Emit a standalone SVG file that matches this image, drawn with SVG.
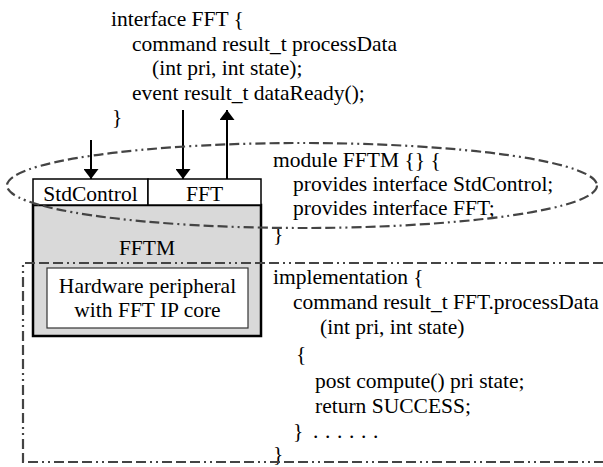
<svg xmlns="http://www.w3.org/2000/svg" width="603" height="467" viewBox="0 0 603 467">
  <style>
    .code { font-family: "Liberation Serif", "Times New Roman", serif; font-size: 21.5px; fill: #000; }
    .lbl { font-family: "Liberation Serif", "Times New Roman", serif; font-size: 21.5px; fill: #000; text-anchor: middle; }
    .dashdot { fill: none; stroke: #444; stroke-width: 2.2; stroke-dasharray: 10 4 10 4 10 4 2 4 2 4; }
    .wire { stroke: #000; stroke-width: 2; fill: none; }
  </style>
  <defs>
    <marker id="head" viewBox="0 0 10 15" refX="10" refY="7.5" markerWidth="10" markerHeight="15" markerUnits="userSpaceOnUse" orient="auto">
      <path d="M0,0 L10,7.5 L0,15 Z" fill="#000"/>
    </marker>
  </defs>

  <rect width="603" height="467" fill="#fff"/>

  <!-- interface definition -->
  <g id="interface-code">
    <text class="code" x="111" y="26">interface FFT {</text>
    <text class="code" x="132" y="50.5">command result_t processData</text>
    <text class="code" x="152" y="75">(int pri, int state);</text>
    <text class="code" x="132" y="99.5">event result_t dataReady();</text>
    <text class="code" x="112" y="124">}</text>
  </g>

  <!-- FFTM component -->
  <g id="fftm">
    <rect x="33" y="205" width="228" height="131" fill="#d9d9d9" stroke="#000" stroke-width="2.5"/>
    <text class="lbl" x="147" y="255">FFTM</text>
  </g>
  <g id="stdcontrol-port">
    <rect x="33" y="179" width="115" height="26" fill="#fff" stroke="#000" stroke-width="1.5"/>
    <text class="lbl" x="90.5" y="201">StdControl</text>
  </g>
  <g id="fft-port">
    <rect x="148" y="179" width="113" height="26" fill="#fff" stroke="#000" stroke-width="1.5"/>
    <text class="lbl" x="204.5" y="201">FFT</text>
  </g>
  <g id="hw-peripheral">
    <rect x="47" y="268" width="201" height="60" fill="#fff" stroke="#333" stroke-width="1.2"/>
    <text class="lbl" x="147.5" y="293">Hardware peripheral</text>
    <text class="lbl" x="147.5" y="317">with FFT IP core</text>
  </g>

  <!-- module declaration -->
  <g id="module-code">
    <text class="code" x="273" y="167">module FFTM {} {</text>
    <text class="code" x="293" y="191">provides interface StdControl;</text>
    <text class="code" x="293" y="215">provides interface FFT;</text>
    <text class="code" x="273" y="241">}</text>
  </g>

  <!-- implementation -->
  <g id="implementation-code">
    <text class="code" x="273" y="284">implementation {</text>
    <text class="code" x="293" y="309">command result_t FFT.processData</text>
    <text class="code" x="320" y="334">(int pri, int state)</text>
    <text class="code" x="296" y="361">{</text>
    <text class="code" x="315" y="388">post compute() pri state;</text>
    <text class="code" x="315" y="413">return SUCCESS;</text>
    <text class="code" x="293" y="438">}<tspan x="313 325 337 349 361 373">......</tspan></text>
    <text class="code" x="273" y="461">}</text>
  </g>

  <!-- connectors and grouping outlines -->
  <g id="connectors">
    <line class="wire" x1="91" y1="140" x2="91" y2="179" marker-end="url(#head)"/>
    <line class="wire" x1="183" y1="110" x2="183" y2="179" marker-end="url(#head)"/>
    <line class="wire" x1="227" y1="179" x2="227" y2="110" marker-end="url(#head)"/>
    <ellipse class="dashdot" cx="302" cy="185.5" rx="295" ry="42.5"/>
    <path class="dashdot" d="M603,263 H23 V462 H603"/>
  </g>
</svg>
